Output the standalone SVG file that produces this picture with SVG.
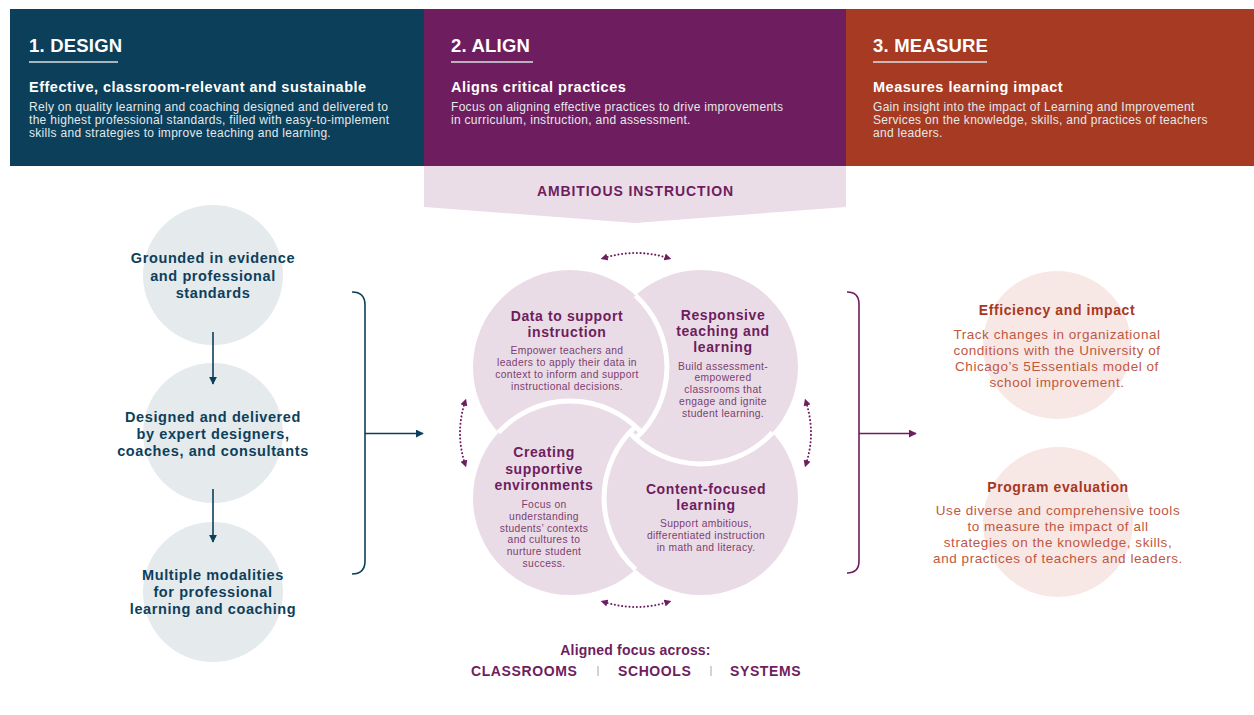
<svg xmlns="http://www.w3.org/2000/svg" width="1254" height="715" viewBox="0 0 1254 715">
<style>
  text{font-family:"Liberation Sans",Arial,sans-serif}
  .h1{font-size:18.5px;font-weight:bold;fill:#fff;letter-spacing:0.2px}
  .h2{font-size:14.5px;font-weight:bold;fill:#fff;letter-spacing:0.5px}
  .hb{font-size:12px;fill:#e4e9ec;letter-spacing:0.3px}
  .ul{stroke:#d9dfe3;stroke-width:1.5}
  .lt{font-size:14.5px;font-weight:bold;fill:#0d3f5b;text-anchor:middle;letter-spacing:0.6px}
  .lc{fill:#e5eaec}
  .ct{font-size:14px;font-weight:bold;fill:#6e1d5e;text-anchor:middle;letter-spacing:0.6px}
  .cb{font-size:10.3px;fill:#7c3e70;text-anchor:middle;letter-spacing:0.35px}
  .cc{fill:#eadce6}
  .rt{font-size:14px;font-weight:bold;fill:#a8371f;text-anchor:middle;letter-spacing:0.6px}
  .rb{font-size:13.5px;fill:#c2573f;text-anchor:middle;letter-spacing:0.55px}
  .rc{fill:#f7e8e5}
  .bt{font-size:14px;font-weight:bold;fill:#6e1d5e;letter-spacing:0.6px}
  .dot{fill:none;stroke:#6e1d5e;stroke-width:2;stroke-dasharray:0.1 3.6;stroke-linecap:round}
  .gap{fill:none;stroke:#fff;stroke-width:5}
</style>
<defs>
  <marker id="ab" viewBox="0 0 10 10" refX="9" refY="5" markerWidth="8" markerHeight="8" markerUnits="userSpaceOnUse" orient="auto"><path d="M0,0 L10,5 L0,10 Z" fill="#0d3f5b"/></marker>
  <marker id="ap" viewBox="0 0 10 10" refX="9" refY="5" markerWidth="8" markerHeight="8" markerUnits="userSpaceOnUse" orient="auto"><path d="M0,0 L10,5 L0,10 Z" fill="#6e1d5e"/></marker>
  <marker id="dp" viewBox="0 0 10 10" refX="5" refY="5" markerWidth="7" markerHeight="7" markerUnits="userSpaceOnUse" orient="auto-start-reverse"><path d="M0,0 L10,5 L0,10 Z" fill="#6e1d5e"/></marker>
</defs>
<rect width="1254" height="715" fill="#fff"/>

<g id="design-header">
  <rect x="10" y="9" width="414" height="157" fill="#0b3f5a"/>
  <text class="h1" x="29" y="52">1. DESIGN</text>
  <line class="ul" x1="29" y1="62" x2="118" y2="62"/>
  <text class="h2" x="29" y="92">Effective, classroom-relevant and sustainable</text>
  <text class="hb" x="29" y="111">Rely on quality learning and coaching designed and delivered to</text>
  <text class="hb" x="29" y="124">the highest professional standards, filled with easy-to-implement</text>
  <text class="hb" x="29" y="137">skills and strategies to improve teaching and learning.</text>
</g>
<g id="align-header">
  <rect x="424" y="9" width="422" height="157" fill="#6e1d5e"/>
  <text class="h1" x="451" y="52">2. ALIGN</text>
  <line class="ul" x1="451" y1="62" x2="533" y2="62"/>
  <text class="h2" x="451" y="92">Aligns critical practices</text>
  <text class="hb" x="451" y="111">Focus on aligning effective practices to drive improvements</text>
  <text class="hb" x="451" y="124">in curriculum, instruction, and assessment.</text>
</g>
<g id="measure-header">
  <rect x="846" y="9" width="408" height="157" fill="#a63a22"/>
  <text class="h1" x="873" y="52">3. MEASURE</text>
  <line class="ul" x1="873" y1="62" x2="987" y2="62"/>
  <text class="h2" x="873" y="92">Measures learning impact</text>
  <text class="hb" x="873" y="111">Gain insight into the impact of Learning and Improvement</text>
  <text class="hb" x="873" y="124">Services on the knowledge, skills, and practices of teachers</text>
  <text class="hb" x="873" y="137">and leaders.</text>
</g>
<g id="ambitious-instruction">
  <path d="M424,166 H846 V207 L635,223 L424,207 Z" fill="#eadde7"/>
  <text x="635.5" y="196" text-anchor="middle" font-size="14" font-weight="bold" fill="#6e1d5e" letter-spacing="0.9">AMBITIOUS INSTRUCTION</text>
</g>

<g id="grounded">
  <circle class="lc" cx="213" cy="275" r="70"/>
  <text class="lt" x="213" y="263">Grounded in evidence</text>
  <text class="lt" x="213" y="281">and professional</text>
  <text class="lt" x="213" y="298">standards</text>
</g>
<g id="designed">
  <circle class="lc" cx="213" cy="433" r="70"/>
  <text class="lt" x="213" y="422">Designed and delivered</text>
  <text class="lt" x="213" y="439">by expert designers,</text>
  <text class="lt" x="213" y="456">coaches, and consultants</text>
</g>
<g id="modalities">
  <circle class="lc" cx="213" cy="592" r="70"/>
  <text class="lt" x="213" y="580">Multiple modalities</text>
  <text class="lt" x="213" y="597">for professional</text>
  <text class="lt" x="213" y="614">learning and coaching</text>
</g>

<g id="data">
  <circle class="cc" cx="570" cy="367" r="97"/>
</g>
<g id="responsive">
  <circle class="cc" cx="701" cy="367" r="97"/>
</g>
<g id="creating">
  <circle class="cc" cx="570" cy="498" r="97"/>
</g>
<g id="content">
  <circle class="cc" cx="701" cy="498" r="97"/>
</g>
<g id="overlap-edges">
  <path class="gap" d="M635.5,295.5 A97,97 0 0 1 635.5,438.5"/>
  <path class="gap" d="M772.5,432.5 A97,97 0 0 1 629.5,432.5"/>
  <path class="gap" d="M635.5,569.5 A97,97 0 0 1 635.5,426.5"/>
  <path class="gap" d="M498.5,432.5 A97,97 0 0 1 641.5,432.5"/>
</g>
<g id="center-texts">
  <text class="ct" x="567" y="321">Data to support</text>
  <text class="ct" x="567" y="337">instruction</text>
  <text class="cb" x="567" y="354">Empower teachers and</text>
  <text class="cb" x="567" y="366">leaders to apply their data in</text>
  <text class="cb" x="567" y="378">context to inform and support</text>
  <text class="cb" x="567" y="390">instructional decisions.</text>

  <text class="ct" x="723" y="320">Responsive</text>
  <text class="ct" x="723" y="336">teaching and</text>
  <text class="ct" x="723" y="352">learning</text>
  <text class="cb" x="723" y="370">Build assessment-</text>
  <text class="cb" x="723" y="381">empowered</text>
  <text class="cb" x="723" y="393">classrooms that</text>
  <text class="cb" x="723" y="405">engage and ignite</text>
  <text class="cb" x="723" y="417">student learning.</text>

  <text class="ct" x="544" y="457">Creating</text>
  <text class="ct" x="544" y="474">supportive</text>
  <text class="ct" x="544" y="490">environments</text>
  <text class="cb" x="544" y="508">Focus on</text>
  <text class="cb" x="544" y="520">understanding</text>
  <text class="cb" x="544" y="532">students’ contexts</text>
  <text class="cb" x="544" y="543">and cultures to</text>
  <text class="cb" x="544" y="555">nurture student</text>
  <text class="cb" x="544" y="567">success.</text>

  <text class="ct" x="706" y="494">Content-focused</text>
  <text class="ct" x="706" y="510">learning</text>
  <text class="cb" x="706" y="527">Support ambitious,</text>
  <text class="cb" x="706" y="539">differentiated instruction</text>
  <text class="cb" x="706" y="551">in math and literacy.</text>
</g>

<g id="efficiency">
  <circle class="rc" cx="1057" cy="345" r="74"/>
  <text class="rt" x="1057" y="315">Efficiency and impact</text>
  <text class="rb" x="1057" y="339">Track changes in organizational</text>
  <text class="rb" x="1057" y="355">conditions with the University of</text>
  <text class="rb" x="1057" y="371">Chicago’s 5Essentials model of</text>
  <text class="rb" x="1057" y="387">school improvement.</text>
</g>
<g id="evaluation">
  <circle class="rc" cx="1058" cy="522" r="75"/>
  <text class="rt" x="1058" y="492">Program evaluation</text>
  <text class="rb" x="1058" y="515">Use diverse and comprehensive tools</text>
  <text class="rb" x="1058" y="531">to measure the impact of all</text>
  <text class="rb" x="1058" y="547">strategies on the knowledge, skills,</text>
  <text class="rb" x="1058" y="563">and practices of teachers and leaders.</text>
</g>

<g id="connectors">
  <line x1="213" y1="332" x2="213" y2="384" stroke="#0d3f5b" stroke-width="1.6" marker-end="url(#ab)"/>
  <line x1="213" y1="489" x2="213" y2="542" stroke="#0d3f5b" stroke-width="1.6" marker-end="url(#ab)"/>
  <path d="M352,292 Q365,292 365,305 V561 Q365,574 352,574" fill="none" stroke="#0d3f5b" stroke-width="1.6"/>
  <line x1="365" y1="433.5" x2="423" y2="433.5" stroke="#0d3f5b" stroke-width="1.6" marker-end="url(#ab)"/>
  <path d="M847,292 Q859,292 859,304 V561 Q859,573 847,573" fill="none" stroke="#6e1d5e" stroke-width="1.6"/>
  <line x1="859" y1="433.5" x2="916" y2="433.5" stroke="#6e1d5e" stroke-width="1.6" marker-end="url(#ap)"/>
  <path class="dot" d="M604,258 Q636,248 668,258" marker-start="url(#dp)" marker-end="url(#dp)"/>
  <path class="dot" d="M604,602 Q636,612 668,602" marker-start="url(#dp)" marker-end="url(#dp)"/>
  <path class="dot" d="M465,402 Q455,433 465,464" marker-start="url(#dp)" marker-end="url(#dp)"/>
  <path class="dot" d="M806,402 Q816,433 806,464" marker-start="url(#dp)" marker-end="url(#dp)"/>
</g>

<g id="aligned-focus">
  <text x="635.5" y="655" text-anchor="middle" font-size="14" font-weight="bold" fill="#6e1d5e" letter-spacing="0.2">Aligned focus across:</text>
  <text class="bt" x="471" y="676">CLASSROOMS</text>
  <line x1="598" y1="666" x2="598" y2="676" stroke="#b89ab0" stroke-width="1"/>
  <text class="bt" x="618" y="676">SCHOOLS</text>
  <line x1="711" y1="666" x2="711" y2="676" stroke="#b89ab0" stroke-width="1"/>
  <text class="bt" x="730" y="676">SYSTEMS</text>
</g>
</svg>
